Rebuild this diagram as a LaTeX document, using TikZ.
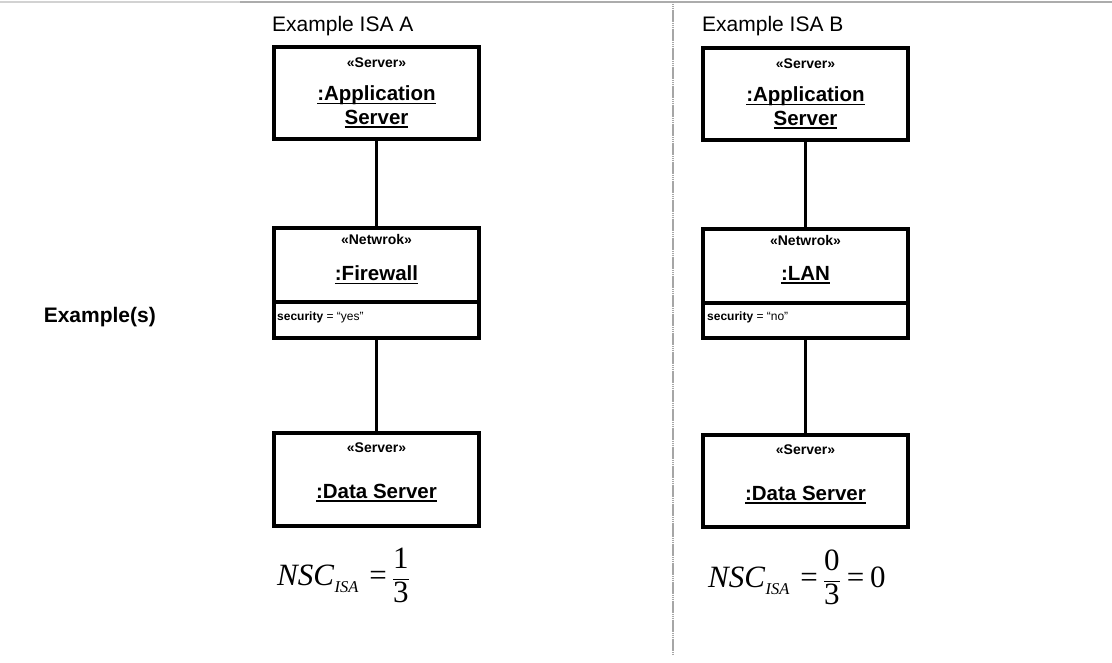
\documentclass[tikz,border=0pt]{standalone}
\usepackage{fontspec}
\setmainfont{Liberation Sans}
\newfontfamily\tnr{Liberation Serif}
\newcommand\ulbox[1]{\leavevmode\setbox0=\hbox{#1}\rlap{\rule[-3.4pt]{\wd0}{1.4pt}}\box0}
\begin{document}
\begin{tikzpicture}[x=1pt,y=-1pt,
  umlbox/.style={draw, line width=3.2pt, minimum width=205pt, inner sep=0pt},
  conn/.style={line width=3.2pt},
  stereo/.style={font=\bfseries\fontsize{14}{16}\selectfont, inner sep=0pt},
  objname/.style={font=\bfseries\fontsize{20.5}{23.5}\selectfont, align=center, inner sep=0pt},
  attr/.style={font=\fontsize{12}{14}\selectfont, inner sep=0pt, anchor=west},
  title/.style={font=\fontsize{21}{24}\selectfont, inner sep=0pt, anchor=base west},
  sep/.style={draw=gray!70, line width=1.3pt, dash pattern=on 1.5pt off 0.4pt}
]
\useasboundingbox (0,0) rectangle (1112,663);
% separators
\coordinate (tl) at (0,2);
\coordinate (tm) at (240,2);
\coordinate (tr) at (1112,2);
\draw[draw=gray!35, line width=1.5pt] (tl) -- (tm);
\draw[draw=gray!65, line width=1.5pt] (tm) -- (tr);
\coordinate (vt) at (673,2);
\coordinate (vb) at (673,655);
\draw[sep] (vt) -- (vb);

% titles
\node[title] (ta) at (272,32) {Example ISA A};
\node[title] (tb) at (702,32) {Example ISA B};
\node[font=\bfseries\fontsize{21}{24}\selectfont, inner sep=0pt, anchor=base east] (ex) at (156,323) {Example(s)};

% ----- A -----
\node[umlbox, minimum height=92pt] (a1) at (376.5,93) {};
\node[stereo] (a1s) at (376.5,63) {«Server»};
\node[objname] (a1n) at (376.5,107) {\ulbox{:Application}\\\ulbox{Server}};

\node[umlbox, minimum height=110pt] (a2) at (376.5,283) {};
\coordinate (a2l) at (a2.west |- 0,302);
\coordinate (a2r) at (a2.east |- 0,302);
\draw[conn] (a2l) -- (a2r);
\node[stereo] (a2s) at (376.5,239) {«Netwrok»};
\node[objname] (a2n) at (376.5,275) {\ulbox{:Firewall}};
\node[attr] (a2a) at (277,317) {\textbf{security} = “yes”};

\node[umlbox, minimum height=93pt] (a3) at (376.5,479.5) {};
\node[stereo] (a3s) at (376.5,448) {«Server»};
\node[objname] (a3n) at (376.5,493) {\ulbox{:Data Server}};

\draw[conn] (a1.south) -- (a2.north);
\draw[conn] (a2.south) -- (a3.north);

\node[anchor=base west, inner sep=0pt] (fa) at (277,585) {\fontsize{31}{36}\selectfont\tnr\itshape NSC\kern0.5pt\raisebox{-7pt}{\fontsize{16.5}{18}\selectfont ISA}\kern11pt\upshape =\kern5pt$\displaystyle\frac{\hbox{\tnr 1}}{\hbox{\tnr 3}}$};

% ----- B -----
\node[umlbox, minimum height=92pt] (b1) at (805.5,94) {};
\node[stereo] (b1s) at (805.5,64) {«Server»};
\node[objname] (b1n) at (805.5,108) {\ulbox{:Application}\\\ulbox{Server}};

\node[umlbox, minimum height=109pt] (b2) at (805.5,283.5) {};
\coordinate (b2l) at (b2.west |- 0,303);
\coordinate (b2r) at (b2.east |- 0,303);
\draw[conn] (b2l) -- (b2r);
\node[stereo] (b2s) at (805.5,240) {«Netwrok»};
\node[objname] (b2n) at (805.5,275) {\ulbox{:LAN}};
\node[attr] (b2a) at (707,317) {\textbf{security} = “no”};

\node[umlbox, minimum height=92pt] (b3) at (805.5,481) {};
\node[stereo] (b3s) at (805.5,450) {«Server»};
\node[objname] (b3n) at (805.5,495) {\ulbox{:Data Server}};

\draw[conn] (b1.south) -- (b2.north);
\draw[conn] (b2.south) -- (b3.north);

\node[anchor=base west, inner sep=0pt] (fb) at (708,587) {\fontsize{31}{36}\selectfont\tnr\itshape NSC\kern0.5pt\raisebox{-7pt}{\fontsize{16.5}{18}\selectfont ISA}\kern11pt\upshape =\kern5pt$\displaystyle\frac{\hbox{\tnr 0}}{\hbox{\tnr 3}}$\kern6pt=\kern6pt0};
\end{tikzpicture}
\end{document}
